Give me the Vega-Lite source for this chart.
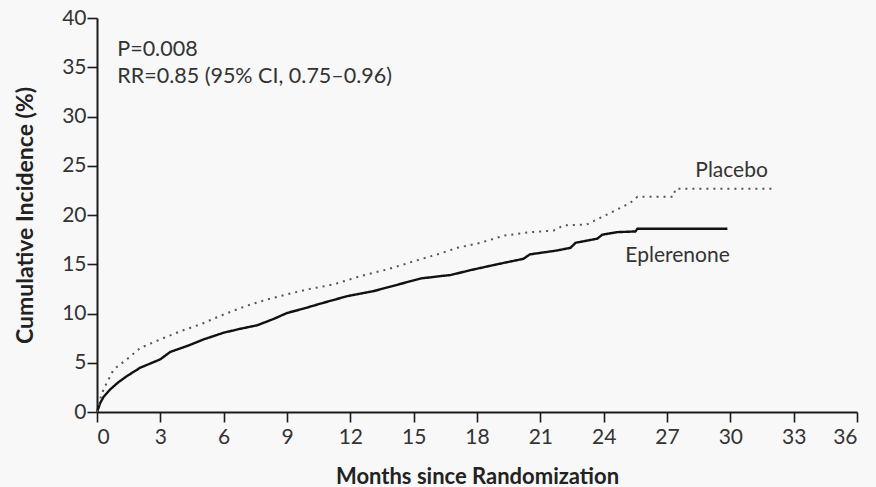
{
  "$schema": "https://vega.github.io/schema/vega-lite/v6.json",
  "width": 760,
  "height": 394,
  "autosize": "none",
  "padding": {"left": 97, "top": 18, "right": 19, "bottom": 75},
  "background": "#f8f8f8",
  "config": {
    "view": {"stroke": null},
    "font": "Lato",
    "axis": {
      "grid": false,
      "domainColor": "#1a1a1a",
      "domainWidth": 2,
      "tickColor": "#1a1a1a",
      "tickWidth": 1.6,
      "tickSize": 10,
      "labelFont": "Lato",
      "labelFontSize": 21,
      "labelColor": "#333333",
      "titleFont": "Lato",
      "titleFontWeight": "bold",
      "titleColor": "#222222"
    }
  },
  "datasets": {
    "curves": [
      {"group": "Eplerenone", "month": 0, "pct": 0},
      {"group": "Eplerenone", "month": 0.15, "pct": 0.9},
      {"group": "Eplerenone", "month": 0.3, "pct": 1.5},
      {"group": "Eplerenone", "month": 0.63, "pct": 2.3},
      {"group": "Eplerenone", "month": 1.0, "pct": 3.0},
      {"group": "Eplerenone", "month": 1.42, "pct": 3.65},
      {"group": "Eplerenone", "month": 2.05, "pct": 4.5},
      {"group": "Eplerenone", "month": 2.5, "pct": 4.9},
      {"group": "Eplerenone", "month": 3.0, "pct": 5.35},
      {"group": "Eplerenone", "month": 3.47, "pct": 6.1},
      {"group": "Eplerenone", "month": 4.27, "pct": 6.7},
      {"group": "Eplerenone", "month": 5.05, "pct": 7.37},
      {"group": "Eplerenone", "month": 6.0, "pct": 8.05},
      {"group": "Eplerenone", "month": 6.79, "pct": 8.45},
      {"group": "Eplerenone", "month": 7.58, "pct": 8.8},
      {"group": "Eplerenone", "month": 8.37, "pct": 9.45},
      {"group": "Eplerenone", "month": 9.0, "pct": 10.05},
      {"group": "Eplerenone", "month": 9.79, "pct": 10.5},
      {"group": "Eplerenone", "month": 10.58, "pct": 11.0},
      {"group": "Eplerenone", "month": 11.85, "pct": 11.76},
      {"group": "Eplerenone", "month": 13.1, "pct": 12.27},
      {"group": "Eplerenone", "month": 14.37, "pct": 13.0},
      {"group": "Eplerenone", "month": 15.32, "pct": 13.55},
      {"group": "Eplerenone", "month": 16.27, "pct": 13.8},
      {"group": "Eplerenone", "month": 16.74, "pct": 13.9},
      {"group": "Eplerenone", "month": 17.69, "pct": 14.4},
      {"group": "Eplerenone", "month": 18.96, "pct": 15.0},
      {"group": "Eplerenone", "month": 20.2, "pct": 15.55},
      {"group": "Eplerenone", "month": 20.5, "pct": 16.0},
      {"group": "Eplerenone", "month": 21.8, "pct": 16.4},
      {"group": "Eplerenone", "month": 22.43, "pct": 16.67},
      {"group": "Eplerenone", "month": 22.67, "pct": 17.18},
      {"group": "Eplerenone", "month": 23.7, "pct": 17.6},
      {"group": "Eplerenone", "month": 23.93, "pct": 18.0},
      {"group": "Eplerenone", "month": 24.64, "pct": 18.26},
      {"group": "Eplerenone", "month": 25.5, "pct": 18.33},
      {"group": "Eplerenone", "month": 25.6, "pct": 18.6},
      {"group": "Eplerenone", "month": 29.86, "pct": 18.6},
      {"group": "Placebo", "month": 0, "pct": 0},
      {"group": "Placebo", "month": 0.1, "pct": 1.0},
      {"group": "Placebo", "month": 0.31, "pct": 2.3},
      {"group": "Placebo", "month": 0.79, "pct": 4.33},
      {"group": "Placebo", "month": 1.42, "pct": 5.35},
      {"group": "Placebo", "month": 2.05, "pct": 6.5},
      {"group": "Placebo", "month": 3.0, "pct": 7.37},
      {"group": "Placebo", "month": 3.95, "pct": 8.2},
      {"group": "Placebo", "month": 4.9, "pct": 8.9},
      {"group": "Placebo", "month": 6.0, "pct": 9.9},
      {"group": "Placebo", "month": 7.11, "pct": 10.8},
      {"group": "Placebo", "month": 8.06, "pct": 11.43},
      {"group": "Placebo", "month": 9.0, "pct": 11.94},
      {"group": "Placebo", "month": 9.95, "pct": 12.44},
      {"group": "Placebo", "month": 11.2, "pct": 12.95},
      {"group": "Placebo", "month": 12.48, "pct": 13.8},
      {"group": "Placebo", "month": 13.74, "pct": 14.47},
      {"group": "Placebo", "month": 15.0, "pct": 15.3},
      {"group": "Placebo", "month": 16.27, "pct": 16.1},
      {"group": "Placebo", "month": 17.06, "pct": 16.67},
      {"group": "Placebo", "month": 18.17, "pct": 17.18},
      {"group": "Placebo", "month": 19.27, "pct": 17.9},
      {"group": "Placebo", "month": 20.54, "pct": 18.26},
      {"group": "Placebo", "month": 21.64, "pct": 18.43},
      {"group": "Placebo", "month": 22.1, "pct": 18.94},
      {"group": "Placebo", "month": 23.2, "pct": 19.04},
      {"group": "Placebo", "month": 24.0, "pct": 19.88},
      {"group": "Placebo", "month": 24.64, "pct": 20.56},
      {"group": "Placebo", "month": 25.27, "pct": 21.24},
      {"group": "Placebo", "month": 25.6, "pct": 21.85},
      {"group": "Placebo", "month": 27.3, "pct": 21.85},
      {"group": "Placebo", "month": 27.4, "pct": 22.66},
      {"group": "Placebo", "month": 32.0, "pct": 22.66}
    ],
    "notes": [
      {"label": "P=0.008", "month": 0.96, "pct": 36.1, "kind": "stat"},
      {"label": "RR=0.85  (95% CI, 0.75–0.96)", "month": 0.96, "pct": 33.45, "kind": "stat"},
      {"label": "Placebo", "month": 30.06, "pct": 23.9, "kind": "series"},
      {"label": "Eplerenone", "month": 27.5, "pct": 15.2, "kind": "series"}
    ]
  },
  "layer": [
    {
      "data": {"name": "curves"},
      "mark": {"type": "line", "strokeCap": "butt"},
      "encoding": {
        "x": {
          "field": "month", "type": "quantitative",
          "scale": {"domain": [0, 36], "nice": false, "zero": false},
          "axis": {"values": [0, 3, 6, 9, 12, 15, 18, 21, 24, 27, 30, 33, 36], "title": "Months since Randomization", "labelPadding": 4, "titlePadding": 19, "titleFontSize": 22}
        },
        "y": {
          "field": "pct", "type": "quantitative",
          "scale": {"domain": [0, 40], "nice": false},
          "axis": {"values": [0, 5, 10, 15, 20, 25, 30, 35, 40], "title": "Cumulative Incidence (%)", "labelPadding": 1, "titlePadding": 24, "titleFontSize": 23}
        },
        "color": {"field": "group", "type": "nominal", "scale": {"domain": ["Eplerenone", "Placebo"], "range": ["#111111", "#555555"]}, "legend": null},
        "strokeDash": {"field": "group", "type": "nominal", "scale": {"domain": ["Eplerenone", "Placebo"], "range": [[1, 0], [2, 5]]}, "legend": null},
        "strokeWidth": {"field": "group", "type": "nominal", "scale": {"domain": ["Eplerenone", "Placebo"], "range": [2.4, 2]}, "legend": null}
      }
    },
    {
      "data": {"name": "notes"},
      "transform": [{"filter": "datum.kind === 'stat'"}],
      "mark": {"type": "text", "align": "left", "baseline": "alphabetic", "font": "Lato", "fontSize": 21.5, "color": "#333333"},
      "encoding": {
        "x": {"field": "month", "type": "quantitative"},
        "y": {"field": "pct", "type": "quantitative"},
        "text": {"field": "label"}
      }
    },
    {
      "data": {"name": "notes"},
      "transform": [{"filter": "datum.kind === 'series'"}],
      "mark": {"type": "text", "align": "center", "baseline": "alphabetic", "font": "Lato", "fontSize": 21, "color": "#333333"},
      "encoding": {
        "x": {"field": "month", "type": "quantitative"},
        "y": {"field": "pct", "type": "quantitative"},
        "text": {"field": "label"}
      }
    }
  ]
}
